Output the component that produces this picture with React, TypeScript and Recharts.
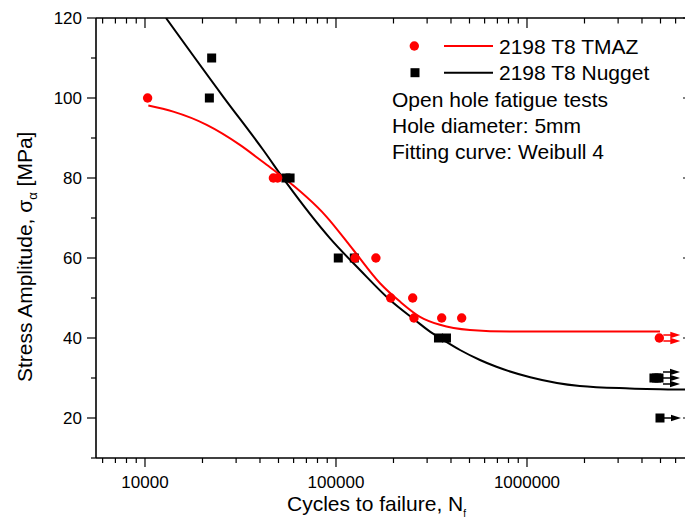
import { ComposedChart, XAxis, YAxis, Line, Scatter } from "recharts";

const FONT = "'Liberation Sans', Arial, sans-serif";
const RED = "#ff0000";

// measured points: cycles to failure (n) vs stress amplitude (s)
const tmazPoints = [
  { n: 10320, s: 100 },
  { n: 47000, s: 80 },
  { n: 49500, s: 80 },
  { n: 125800, s: 60 },
  { n: 161800, s: 60 },
  { n: 193400, s: 50 },
  { n: 252100, s: 50 },
  { n: 256100, s: 45 },
  { n: 357600, s: 45 },
  { n: 455000, s: 45 },
  { n: 4930000, s: 40 },
];

const nuggetPoints = [
  { n: 21730, s: 100 },
  { n: 22340, s: 110 },
  { n: 54700, s: 80 },
  { n: 57500, s: 80 },
  { n: 102800, s: 60 },
  { n: 124700, s: 60 },
  { n: 344000, s: 40 },
  { n: 378800, s: 40 },
  { n: 4620000, s: 30 },
  { n: 4770000, s: 30 },
  { n: 4910000, s: 30 },
  { n: 4970000, s: 20 },
];

// run-outs (count = number of unbroken specimens)
const tmazRunouts = [{ n: 4930000, s: 40, count: 2 }];
const nuggetRunouts = [
  { n: 4910000, s: 30, count: 3 },
  { n: 4970000, s: 20, count: 1 },
];

// Weibull 4 fitting curves
const tmazFit = [
  { n: 10410, s: 98.1 },
  { n: 14060, s: 96.6 },
  { n: 21040, s: 93.3 },
  { n: 31400, s: 88.3 },
  { n: 43350, s: 83.3 },
  { n: 50900, s: 80.8 },
  { n: 89300, s: 70.3 },
  { n: 123300, s: 62.0 },
  { n: 170000, s: 53.7 },
  { n: 216300, s: 49.1 },
  { n: 275300, s: 45.3 },
  { n: 350300, s: 43.3 },
  { n: 502800, s: 42.0 },
  { n: 814700, s: 41.6 },
  { n: 4970000, s: 41.6 },
];

const nuggetFit = [
  { n: 12880, s: 120 },
  { n: 25700, s: 100.3 },
  { n: 41600, s: 87 },
  { n: 55200, s: 78.7 },
  { n: 93100, s: 64.9 },
  { n: 133600, s: 57 },
  { n: 191800, s: 49.5 },
  { n: 259200, s: 44.5 },
  { n: 310500, s: 41.6 },
  { n: 364600, s: 39.5 },
  { n: 446000, s: 37 },
  { n: 567500, s: 34.5 },
  { n: 692000, s: 32.8 },
  { n: 1040000, s: 30.2 },
  { n: 1890000, s: 28.0 },
  { n: 3460000, s: 27.4 },
  { n: 7300000, s: 27.1 },
];

const xTicks = [
  6000, 7000, 8000, 9000, 10000, 20000, 30000, 40000, 50000, 60000, 70000,
  80000, 90000, 100000, 200000, 300000, 400000, 500000, 600000, 700000,
  800000, 900000, 1000000, 2000000, 3000000, 4000000, 5000000, 6000000,
  7000000,
];
const xLabels = [10000, 100000, 1000000];
const yTicks = [10, 20, 30, 40, 50, 60, 70, 80, 90, 100, 110, 120];
const yLabels = [20, 40, 60, 80, 100, 120];

const seriesNames = ["2198 T8 TMAZ", "2198 T8 Nugget"];
const notes = [
  "Open hole fatigue tests",
  "Hole diameter: 5mm",
  "Fitting curve: Weibull 4",
];

const BottomTick = ({ x, y, payload }: any) => {
  const major = xLabels.includes(payload.value);
  return (
    <g>
      <line x1={x} x2={x} y1={y} y2={y + (major ? 9 : 5)} stroke="#000" strokeWidth={1.2} />
      {major && (
        <text x={x} y={y + 30} textAnchor="middle" fontSize={17} fontFamily={FONT} fill="#000">
          {payload.value}
        </text>
      )}
    </g>
  );
};

const TopTick = ({ x, y, payload }: any) => {
  const major = xLabels.includes(payload.value);
  return <line x1={x} x2={x} y1={y} y2={y + (major ? 10 : 5.5)} stroke="#000" strokeWidth={1.2} />;
};

const LeftTick = ({ x, y, payload }: any) => {
  const major = yLabels.includes(payload.value);
  return (
    <g>
      <line x1={x - (major ? 9 : 5)} x2={x} y1={y} y2={y} stroke="#000" strokeWidth={1.2} />
      {major && (
        <text x={x - 14} y={y + 6} textAnchor="end" fontSize={17} fontFamily={FONT} fill="#000">
          {payload.value}
        </text>
      )}
    </g>
  );
};

const RightTick = ({ x, y, payload }: any) => {
  const major = yLabels.includes(payload.value);
  return <line x1={x - (major ? 9 : 5)} x2={x} y1={y} y2={y} stroke="#000" strokeWidth={1.2} />;
};

const RedDot = ({ cx, cy }: any) => <circle cx={cx} cy={cy} r={4.7} fill={RED} />;
const BlackSquare = ({ cx, cy }: any) => (
  <rect x={cx - 4.5} y={cy - 4.5} width={9} height={9} fill="#000" />
);

const arrows = (color: string) => ({ cx, cy, payload }: any) => {
  const count = payload?.count ?? 1;
  const items = [];
  for (let i = 0; i < count; i++) {
    const yy = cy + (i - (count - 1) / 2) * 6;
    items.push(
      <g key={i}>
        <line x1={cx + 4} x2={cx + 13} y1={yy} y2={yy} stroke={color} strokeWidth={1.5} />
        <polygon points={`${cx + 11},${yy - 3.3} ${cx + 21},${yy} ${cx + 11},${yy + 3.3}`} fill={color} />
      </g>
    );
  }
  return <g>{items}</g>;
};

export default function App() {
  const axisLine = { stroke: "#000", strokeWidth: 1.6 };
  return (
    <div
      style={{
        position: "absolute",
        left: 0,
        top: 0,
        width: 685,
        height: 518,
        overflow: "hidden",
        background: "#fff",
      }}
    >
      <ComposedChart width={694} height={518} margin={{ top: 0, right: 0, bottom: 0, left: 0 }}>
        <XAxis
          xAxisId="b"
          dataKey="n"
          type="number"
          scale="log"
          domain={[5540, 7310000]}
          allowDataOverflow
          ticks={xTicks}
          interval={0}
          tickSize={0}
          tickMargin={0}
          tickLine={false}
          tick={BottomTick}
          axisLine={axisLine}
          height={60}
        />
        <XAxis
          xAxisId="t"
          orientation="top"
          dataKey="n"
          type="number"
          scale="log"
          domain={[5540, 7310000]}
          allowDataOverflow
          ticks={xTicks}
          interval={0}
          tickSize={0}
          tickMargin={0}
          tickLine={false}
          tick={TopTick}
          axisLine={axisLine}
          height={18}
        />
        <YAxis
          yAxisId="l"
          dataKey="s"
          type="number"
          domain={[10, 120]}
          allowDataOverflow
          ticks={yTicks}
          interval={0}
          tickSize={0}
          tickMargin={0}
          tickLine={false}
          tick={LeftTick}
          axisLine={axisLine}
          width={96}
        />
        <YAxis
          yAxisId="r"
          orientation="right"
          dataKey="s"
          type="number"
          domain={[10, 120]}
          allowDataOverflow
          ticks={yTicks}
          interval={0}
          tickSize={0}
          tickMargin={0}
          tickLine={false}
          tick={RightTick}
          axisLine={axisLine}
          width={2}
        />
        <Line
          xAxisId="b"
          yAxisId="l"
          data={nuggetFit}
          dataKey="s"
          type="monotone"
          stroke="#000"
          strokeWidth={2}
          dot={false}
          activeDot={false}
          isAnimationActive={false}
        />
        <Line
          xAxisId="b"
          yAxisId="l"
          data={tmazFit}
          dataKey="s"
          type="monotone"
          stroke={RED}
          strokeWidth={2}
          dot={false}
          activeDot={false}
          isAnimationActive={false}
        />
        <Scatter xAxisId="b" yAxisId="l" data={nuggetRunouts} dataKey="s" shape={arrows("#000")} isAnimationActive={false} />
        <Scatter xAxisId="b" yAxisId="l" data={tmazRunouts} dataKey="s" shape={arrows(RED)} isAnimationActive={false} />
        <Scatter xAxisId="b" yAxisId="l" data={nuggetPoints} dataKey="s" shape={BlackSquare} isAnimationActive={false} />
        <Scatter xAxisId="b" yAxisId="l" data={tmazPoints} dataKey="s" shape={RedDot} isAnimationActive={false} />
      </ComposedChart>
      <svg
        width={685}
        height={518}
        style={{ position: "absolute", left: 0, top: 0, pointerEvents: "none" }}
        fontFamily={FONT}
        fill="#000"
      >
        <circle cx={414.3} cy={46} r={4.7} fill={RED} />
        <line x1={444} x2={493} y1={46} y2={46} stroke={RED} strokeWidth={2} />
        <text x={499} y={53.5} fontSize={21}>{seriesNames[0]}</text>
        <rect x={410.5} y={68.2} width={9} height={9} fill="#000" />
        <line x1={444} x2={493} y1={72.7} y2={72.7} stroke="#000" strokeWidth={2} />
        <text x={499} y={80} fontSize={21}>{seriesNames[1]}</text>
        {notes.map((t, i) => (
          <text key={t} x={392} y={106.7 + i * 26} fontSize={21}>
            {t}
          </text>
        ))}
        <text x={287} y={511} fontSize={21}>
          Cycles to failure, N<tspan fontSize={10} dy={6}>f</tspan>
        </text>
        <text transform="translate(32,382) rotate(-90)" fontSize={21}>
          Stress Amplitude, σ<tspan fontSize={13} dy={5}>α</tspan>
          <tspan dy={-5}> [MPa]</tspan>
        </text>
      </svg>
    </div>
  );
}
